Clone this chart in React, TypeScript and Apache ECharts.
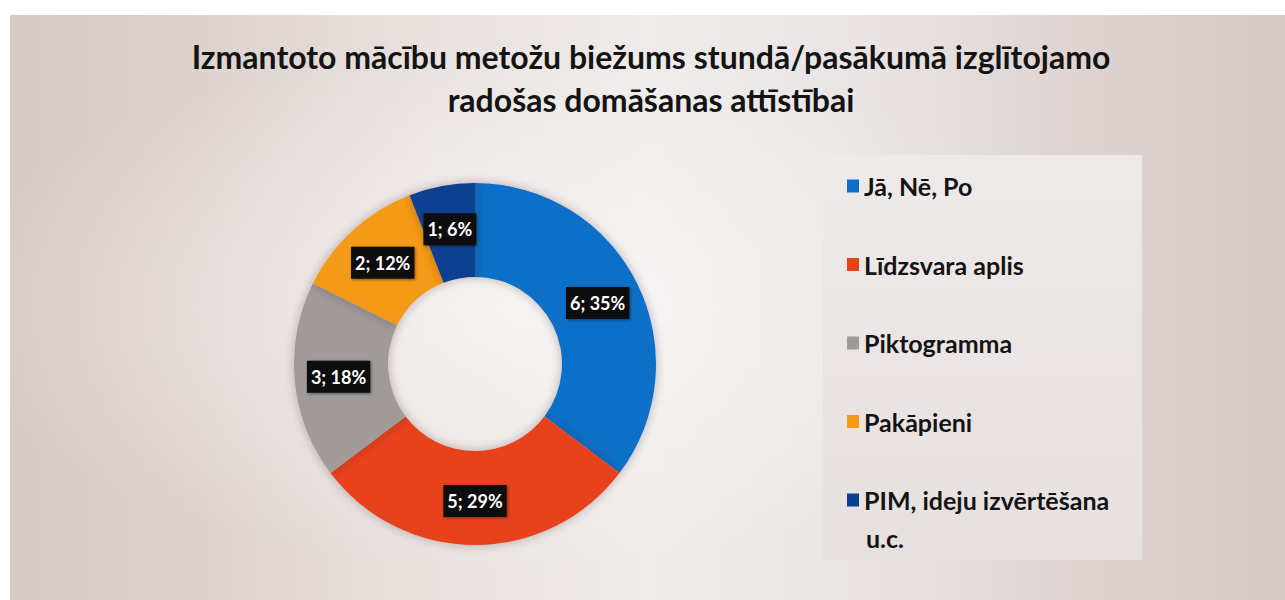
import React, { useEffect, useRef } from "react";
import * as echarts from "echarts";

// ---- data ----
const categories = [
  "Jā, Nē, Po",
  "Līdzsvara aplis",
  "Piktogramma",
  "Pakāpieni",
  "PIM, ideju izvērtēšana u.c.",
];
const counts = [6, 5, 3, 2, 1];
const percents = [35, 29, 18, 12, 6];
const sliceColors = ["#0b6fc8", "#e8421b", "#a09a99", "#f59a12", "#0c3f90"];
const titleLines = [
  "Izmantoto mācību metožu biežums stundā/pasākumā izglītojamo",
  "radošas domāšanas attīstībai",
];
const lastLegendLines = ["PIM, ideju izvērtēšana", "u.c."];

const FONT = "Lato, 'Noto Sans', 'DejaVu Sans', sans-serif";

export default function App() {
  const ref = useRef<HTMLDivElement>(null);

  useEffect(() => {
    if (!ref.current) return;
    const chart = echarts.init(ref.current, null, { renderer: "svg" });

    chart.setOption({
      animation: false,
      backgroundColor: "#ffffff",
      title: {
        text: titleLines.join("\n"),
        left: 651,
        top: 35,
        textAlign: "center",
        padding: 0,
        textStyle: {
          fontFamily: FONT,
          fontWeight: "bold",
          fontSize: 32,
          lineHeight: 43,
          color: "#141414",
        },
      },
      graphic: [
        {
          type: "rect",
          z: -10,
          silent: true,
          shape: { x: 10, y: 15, width: 1275, height: 585 },
          style: {
            fill: new echarts.graphic.LinearGradient(0, 0, 1, 0, [
              { offset: 0, color: "#d7c9c5" },
              { offset: 0.15, color: "#ddd2ce" },
              { offset: 0.33, color: "#e9e2df" },
              { offset: 0.5, color: "#efebea" },
              { offset: 0.66, color: "#eae5e4" },
              { offset: 0.85, color: "#ddd3d1" },
              { offset: 1, color: "#d5c9c7" },
            ]),
          },
        },
        {
          type: "rect",
          z: -9,
          silent: true,
          shape: { x: 10, y: 15, width: 1275, height: 585 },
          style: {
            fill: new echarts.graphic.RadialGradient(0.4, 0.5, 0.45, [
              { offset: 0, color: "rgba(255,255,255,0.55)" },
              { offset: 1, color: "rgba(255,255,255,0)" },
            ]),
          },
        },
        {
          type: "rect",
          z: -8,
          silent: true,
          shape: { x: 823, y: 155, width: 319, height: 405 },
          style: {
            fill: new echarts.graphic.LinearGradient(0, 0, 0, 1, [
              { offset: 0, color: "#efeaea" },
              { offset: 1, color: "#e6e0df" },
            ]),
          },
        },
        {
          type: "text",
          z: 10,
          x: 866,
          y: 538,
          style: {
            text: lastLegendLines[1],
            fontFamily: FONT,
            fontWeight: "bold",
            fontSize: 25,
            fill: "#141414",
            verticalAlign: "middle",
          },
        },
      ],
      legend: {
        orient: "vertical",
        left: 847,
        top: 172,
        padding: 0,
        itemWidth: 12,
        itemHeight: 13,
        itemGap: 50.5,
        icon: "rect",
        selectedMode: false,
        data: categories,
        formatter: (name: string) =>
          name === categories[4] ? lastLegendLines[0] : name,
        textStyle: {
          fontFamily: FONT,
          fontWeight: "bold",
          fontSize: 25,
          lineHeight: 28,
          color: "#141414",
        },
      },
      series: [
        {
          type: "pie",
          center: [475, 364],
          radius: [87, 181],
          startAngle: 90,
          clockwise: true,
          silent: true,
          avoidLabelOverlap: false,
          data: categories.map((name, i) => ({
            name,
            value: counts[i],
            itemStyle: { color: sliceColors[i] },
          })),
          itemStyle: {
            shadowBlur: 10,
            shadowColor: "rgba(60,40,40,0.35)",
          },
          label: {
            show: true,
            position: "inside",
            formatter: (p: any) =>
              `${counts[p.dataIndex]}; ${percents[p.dataIndex]}%`,
            fontFamily: FONT,
            fontWeight: "bold",
            fontSize: 18,
            lineHeight: 22,
            color: "#ffffff",
            backgroundColor: "#0e0e0e",
            padding: [5, 4],
            shadowBlur: 3,
            shadowColor: "rgba(0,0,0,0.45)",
            shadowOffsetX: 1,
            shadowOffsetY: 1,
          },
          labelLine: { show: false },
          emphasis: { disabled: true },
        },
      ],
    });

    return () => chart.dispose();
  }, []);

  return (
    <div
      ref={ref}
      style={{ position: "absolute", left: 0, top: 0, width: 1285, height: 600 }}
    />
  );
}
